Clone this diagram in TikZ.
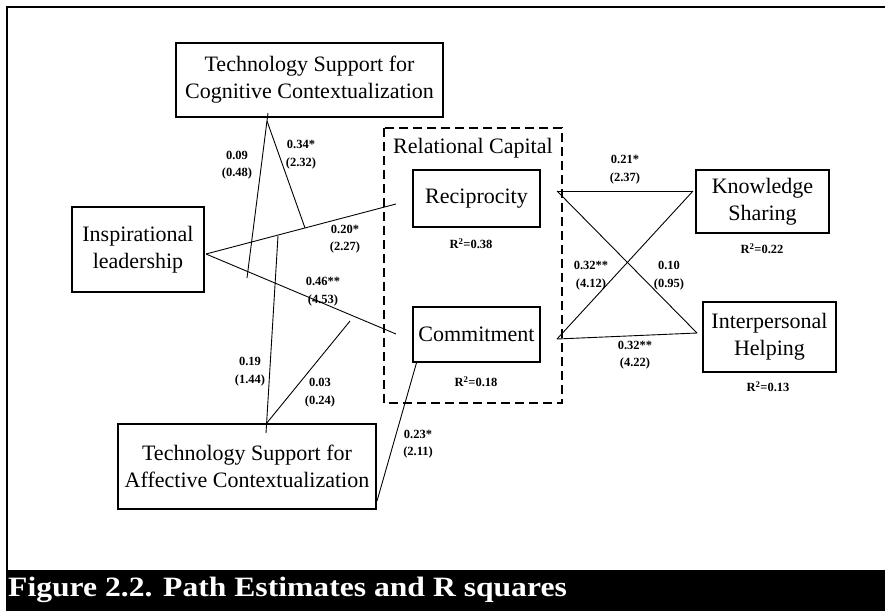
\documentclass[tikz,border=0pt]{standalone}
\usepackage{fontspec}
\setmainfont{Liberation Serif}
\begin{document}
\begin{tikzpicture}[x=1pt,y=-1pt,
  box/.style={draw,line width=1.3pt,inner sep=0pt,align=center,font=\fontsize{22}{27}\selectfont},
  lab/.style={inner sep=0pt,align=center,font=\fontsize{12.5}{17.5}\selectfont\bfseries},
  rsq/.style={inner sep=0pt,font=\fontsize{12.5}{15}\selectfont\bfseries},
  path/.style={line width=0.9pt}]
\useasboundingbox (0,0) rectangle (885,611);
% frame
\draw[line width=2.5pt] (885,7) -- (7,7) -- (7,570);
\fill[black] (6,570) rectangle (885,611);
\node[anchor=base west,inner sep=0pt,text=white] (cap) at (8,596)
  {\scalebox{1.13}[1]{\fontsize{28}{30}\selectfont\bfseries Figure 2.2. Path Estimates and R squares}};
% dashed group
\draw[dashed,dash pattern=on 9pt off 5pt,line width=1.4pt] (384,128) rectangle (562,403);
\node[anchor=base west,inner sep=0pt,font=\fontsize{22}{27}\selectfont] (rc) at (393,153) {Relational Capital};
% boxes
\node[box,minimum width=267,minimum height=74] (tscc) at (309.5,80) {Technology Support for\\Cognitive Contextualization};
\node[box,minimum width=132,minimum height=85] (il) at (138,249.5) {Inspirational\\leadership};
\node[box,minimum width=127,minimum height=57] (rec) at (476.5,198.5) {Reciprocity};
\node[box,minimum width=127,minimum height=55] (com) at (476.5,334.5) {Commitment};
\node[box,minimum width=133,minimum height=63] (ks) at (762.5,201.5) {Knowledge\\Sharing};
\node[box,minimum width=133,minimum height=70] (ih) at (769.5,337) {Interpersonal\\Helping};
\node[box,minimum width=258,minimum height=85] (tsac) at (247,466.5) {Technology Support for\\Affective Contextualization};
% R squares
\node[rsq] (r1) at (471,244) {R\textsuperscript{2}=0.38};
\node[rsq] (r2) at (476,382) {R\textsuperscript{2}=0.18};
\node[rsq] (r3) at (762,249) {R\textsuperscript{2}=0.22};
\node[rsq] (r4) at (768,387) {R\textsuperscript{2}=0.13};
% connector end points
\coordinate (ilout) at (206,254);
\coordinate (recin) at (396,204);
\coordinate (comin) at (396,334);
\coordinate (ctop) at (268,113);
\coordinate (capx) at (267,121);
\coordinate (m09) at (247,278);
\coordinate (m34) at (305,228);
\coordinate (abot) at (266,433);
\coordinate (aapx) at (266,424);
\coordinate (m19) at (278,236);
\coordinate (m03) at (350,321);
\coordinate (acorner) at (377,501);
\coordinate (comcorner) at (417,361);
\coordinate (recout) at (557,191);
\coordinate (comout) at (557,339);
\coordinate (ksin) at (693,191);
\coordinate (ihin) at (697,333);
% connectors
\draw[path] (ilout) -- (recin);
\draw[path] (ilout) -- (comin);
\draw[path] (ctop) -- (m09);
\draw[path] (capx) -- (m34);
\draw[path] (abot) -- (m19);
\draw[path] (aapx) -- (m03);
\draw[path] (acorner) -- (comcorner);
\draw[path] (recout) -- (ksin);
\draw[path] (recout) -- (ihin);
\draw[path] (comout) -- (ksin);
\draw[path] (comout) -- (ihin);
% path labels
\node[lab] (l09) at (237,165) {0.09\\(0.48)};
\node[lab] (l34) at (301,154.5) {0.34*\\(2.32)};
\node[lab] (l20) at (345,239) {0.20*\\(2.27)};
\node[lab] (l46) at (323,291.5) {0.46**\\(4.53)};
\node[lab] (l19) at (250,371.5) {0.19\\(1.44)};
\node[lab] (l03) at (320,392.5) {0.03\\(0.24)};
\node[lab] (l23) at (418,444) {0.23*\\(2.11)};
\node[lab] (l21) at (625,169.5) {0.21*\\(2.37)};
\node[lab] (l32a) at (591,275.5) {0.32**\\(4.12)};
\node[lab] (l10) at (669,275.5) {0.10\\(0.95)};
\node[lab] (l32b) at (635,355) {0.32**\\(4.22)};
\end{tikzpicture}
\end{document}
